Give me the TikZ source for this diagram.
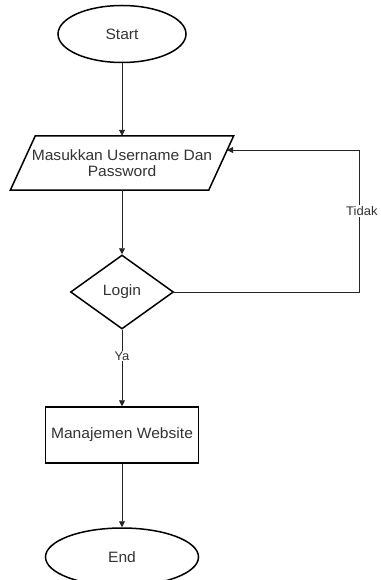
\documentclass[tikz,border=0pt]{standalone}
\usepackage{fontspec}
\setmainfont{Liberation Sans}[FakeStretch=1.04]
\usetikzlibrary{shapes.geometric,arrows.meta,calc}
\begin{document}
\begin{tikzpicture}[x=1pt,y=-1pt,
  shapeline/.style={draw=black,line width=1.5pt},
  txt/.style={font=\fontsize{15}{16.5}\selectfont,text=black!80},
  lbl/.style={font=\fontsize{12.5}{14}\selectfont,text=black!80,fill=white,inner sep=1pt},
  conn/.style={draw=black!85,line width=0.9pt,-{Triangle[length=6pt,width=6pt]}}]
\useasboundingbox (0,0) rectangle (380,580);
\node[ellipse,shapeline,txt,minimum width=128pt,minimum height=57pt,inner sep=0pt] (start) at (122,34) {Start};
\node[txt,minimum width=198pt,minimum height=54pt,inner sep=0pt,align=center] (inp) at (122,163) {Masukkan Username Dan\\Password};
\draw[shapeline] ($(inp.north west)+(12.5pt,0pt)$) -- ($(inp.north east)+(12.5pt,0pt)$) -- ($(inp.south east)+(-12.5pt,0pt)$) -- ($(inp.south west)+(-12.5pt,0pt)$) -- cycle;
\node[diamond,shapeline,txt,minimum width=103pt,minimum height=74pt,aspect=1.39,inner sep=0pt] (dia) at (122,292) {Login};
\node[rectangle,shapeline,txt,minimum width=153pt,minimum height=56pt,inner sep=0pt] (rect) at (122,435) {Manajemen Website};
\node[ellipse,shapeline,txt,minimum width=153pt,minimum height=58pt,inner sep=0pt] (end) at (122,557) {End};
\coordinate (c1) at (359,292);
\coordinate (c2) at (359,150);
\coordinate (inr) at (227,150);
\draw[conn] (start.south) -- (inp.north);
\draw[conn] (inp.south) -- (dia.north);
\draw[conn] (dia.south) -- (rect.north);
\node[lbl] (ya) at (122,356) {Ya};
\draw[conn] (rect.south) -- (end.north);
\draw[conn] (dia.east) -- (c1) -- (c2) -- (inr);
\node[lbl,anchor=west] (tidak) at (345,211) {Tidak};
\end{tikzpicture}
\end{document}
